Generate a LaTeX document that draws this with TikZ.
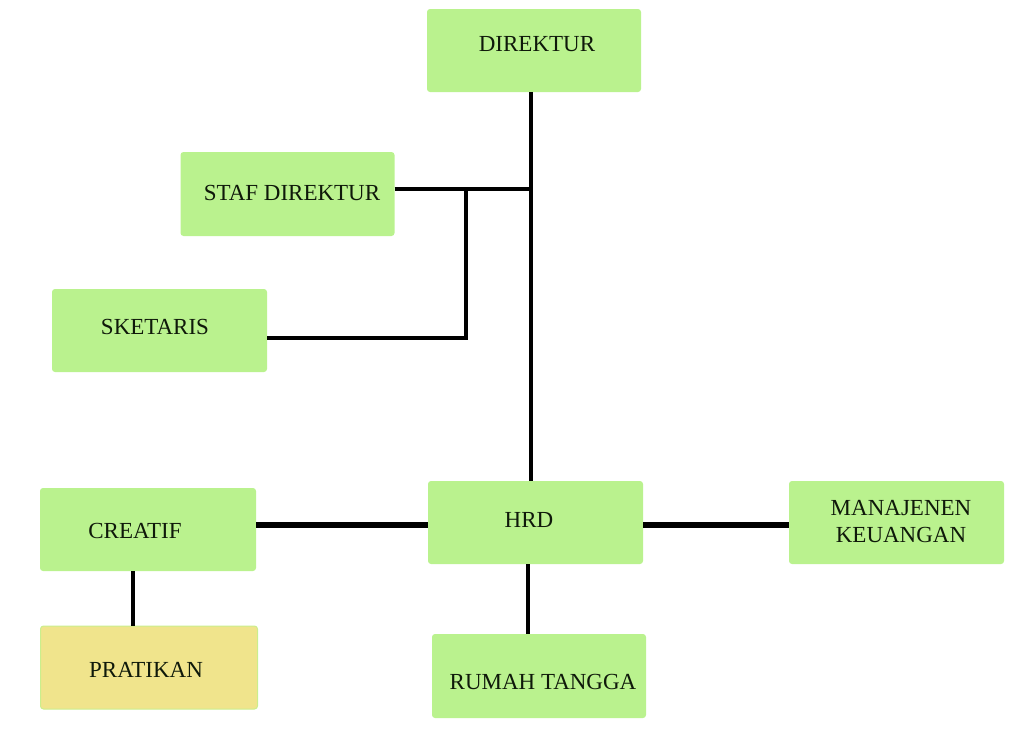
\documentclass[tikz,border=0pt]{standalone}
\usepackage{fontspec}
\setmainfont{Liberation Serif}
\definecolor{boxgreen}{RGB}{186,242,142}
\definecolor{boxyellow}{RGB}{240,228,140}
\definecolor{txt}{RGB}{15,25,10}
\begin{document}
\begin{tikzpicture}[x=1pt,y=-1pt,
  box/.style={draw=none,fill=boxgreen,rounded corners=3pt,inner sep=0pt},
  lbl/.style={inner sep=0pt,text=txt,font=\fontsize{23}{27}\selectfont,align=center},
  thick4/.style={line width=4.6pt},
  thin3/.style={line width=3.2pt}]
\useasboundingbox (0,0) rectangle (1024,745);
% boxes
\node[box,minimum width=214pt,minimum height=83pt] (dir) at (534,50.5) {};
\node[box,minimum width=214pt,minimum height=84pt] (staf) at (287.5,194) {};
\node[box,minimum width=215pt,minimum height=83pt] (sek) at (159.5,330.5) {};
\node[box,minimum width=216pt,minimum height=83pt] (cre) at (148,529.5) {};
\node[box,fill=boxyellow,draw=boxgreen!70!boxyellow,line width=1pt,minimum width=217pt,minimum height=83pt] (pra) at (149,667.5) {};
\node[box,minimum width=215pt,minimum height=83pt] (hrd) at (535.5,522.5) {};
\node[box,minimum width=215pt,minimum height=83pt] (man) at (896.5,522.5) {};
\node[box,minimum width=214pt,minimum height=84pt] (rum) at (539,676) {};
% labels
\node[lbl] (tdir) at (537,44) {DIREKTUR};
\node[lbl] (tstaf) at (292,193) {STAF DIREKTUR};
\node[lbl] (tsek) at (155,327) {SKETARIS};
\node[lbl] (tcre) at (135,531) {CREATIF};
\node[lbl] (tpra) at (146,670) {PRATIKAN};
\node[lbl] (thrd) at (529,520) {HRD};
\node[lbl] (tman) at (901,522) {MANAJENEN\\KEUANGAN};
\node[lbl] (trum) at (543,682) {RUMAH TANGGA};
% junction coordinates
\coordinate (jtop) at (531,92);
\coordinate (jbot) at (531,481);
\coordinate (jstaf) at (531,189);
\coordinate (jsek) at (466,189);
\coordinate (jsekb) at (466,338);
% connectors
\draw[thick4] (jtop) -- (jbot);
\draw[thick4] (staf.east |- jstaf) -- (jstaf);
\draw[thin3] (jsek) -- (jsekb) -- (sek.east |- jsekb);
\draw[line width=5.5pt] (cre.east |- 0,525) -- (hrd.west |- 0,525);
\draw[line width=6pt] (hrd.east |- 0,525) -- (man.west |- 0,525);
\draw[thin3] (hrd.south -| 528,0) -- (rum.north -| 528,0);
\draw[thin3] (cre.south -| 133,0) -- (pra.north -| 133,0);
\end{tikzpicture}
\end{document}
